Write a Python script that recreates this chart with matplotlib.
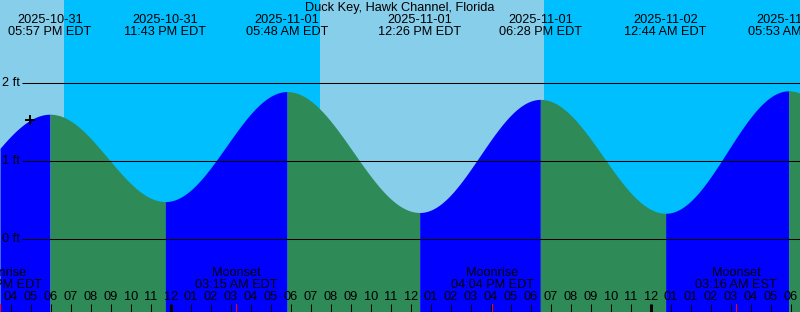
import numpy as np
import matplotlib
matplotlib.use("Agg")
import matplotlib.pyplot as plt
from matplotlib.transforms import blended_transform_factory

# ---- data (hours since 2025-10-31 00:00 EDT, heights in ft) ----
tide_times = [11.75, 17.95, 23.717, 29.80, 36.433, 42.467, 48.733, 54.883, 61.10]
tide_heights = [0.35, 1.60, 0.48, 1.89, 0.34, 1.79, 0.33, 1.90, 0.45]
tide_dates = ["", "2025-10-31", "2025-10-31", "2025-11-01", "2025-11-01",
              "2025-11-01", "2025-11-02", "2025-11-02", ""]
tide_clock = ["", "05:57 PM EDT", "11:43 PM EDT", "05:48 AM EDT", "12:26 PM EDT",
              "06:28 PM EDT", "12:44 AM EDT", "05:53 AM EST", ""]

sun_times = [18.65, 31.45, 42.65]          # sunset, sunrise, sunset
sun_kinds = ["set", "rise", "set"]

moon_times = [15.467, 27.25, 40.067, 52.267]
moon_names = ["Moonrise", "Moonset", "Moonrise", "Moonset"]
moon_clock = ["03:28 PM EDT", "03:15 AM EDT", "04:04 PM EDT", "03:16 AM EST"]

hour_ticks = list(range(16, 56))
hour_labels = ["04", "05", "06", "07", "08", "09", "10", "11", "12",
               "01", "02", "03", "04", "05", "06", "07", "08", "09", "10", "11", "12",
               "01", "02", "03", "04", "05", "06", "07", "08", "09", "10", "11", "12",
               "01", "01", "02", "03", "04", "05", "06"]
midnights = [24, 48]

gridlines = [0, 1, 2]
grid_labels = ["0 ft", "1 ft", "2 ft"]

now_time = 16.95
now_height = 1.52

title = "Duck Key, Hawk Channel, Florida"

# ---- style ----
DAY = "#87CEEB"
NIGHT = "#00BFFF"
FLOOD = "#0000FF"
EBB = "#2E8B57"
FONT = "Liberation Sans"
FS = 9.2

W, H = 800, 312
t0, t1 = 15.45, 55.45
ybot, ytop = -73 / 78, 239 / 78

fig = plt.figure(figsize=(W / 100, H / 100), dpi=100)
ax = fig.add_axes([0, 0, 1, 1])
ax.set_xlim(t0, t1)
ax.set_ylim(ybot, ytop)
ax.axis("off")
bt = blended_transform_factory(ax.transData, ax.transAxes)


def py(p):
    return 1 - p / H


# sky background
edges = [t0] + sun_times + [t1]
first_day = sun_kinds[0] == "set"
for i in range(len(edges) - 1):
    is_day = (i % 2 == 0) == first_day
    ax.axvspan(edges[i], edges[i + 1], color=DAY if is_day else NIGHT, lw=0, zorder=0)


# water
for i in range(len(tide_times) - 1):
    ta, tb = tide_times[i], tide_times[i + 1]
    ha, hb = tide_heights[i], tide_heights[i + 1]
    lo, hi = max(ta, t0), min(tb, t1)
    if hi <= lo:
        continue
    t = np.linspace(lo, hi, 200)
    ph = (t - ta) / (tb - ta) * np.pi
    h = (ha + hb) / 2 + (ha - hb) / 2 * np.cos(ph)
    col = FLOOD if hb > ha else EBB
    ax.fill_between(t, ybot, h, color=col, lw=0, zorder=1)

# horizontal lines + labels
for g, lab in zip(gridlines, grid_labels):
    ax.plot([t0 + 22 / 20, t1], [g, g], color="black", lw=0.75, zorder=3,
            solid_capstyle="butt")
    ax.text(t0 + 2 / 20, g, lab, fontsize=FS, family=FONT, ha="left", va="center",
            zorder=4)

# title
ax.text(0.5, py(8), title, transform=ax.transAxes, fontsize=FS, family=FONT,
        ha="center", va="center", zorder=4)

# tide labels
for t, d, c in zip(tide_times, tide_dates, tide_clock):
    if not d:
        continue
    ax.text(t, py(20), d, transform=bt, fontsize=FS, family=FONT, ha="center",
            va="center", zorder=4)
    ax.text(t, py(32), c, transform=bt, fontsize=FS, family=FONT, ha="center",
            va="center", zorder=4)

# moon labels
for t, n, c in zip(moon_times, moon_names, moon_clock):
    ax.text(t, py(273.5), n, transform=bt, fontsize=FS, family=FONT, ha="center",
            va="center", zorder=4)
    ax.text(t, py(285.5), c, transform=bt, fontsize=FS, family=FONT, ha="center",
            va="center", zorder=4)
    ax.plot([t, t], [py(304), py(312)], transform=bt, color="red", lw=0.75, zorder=4)

# hour ticks and labels
for t, lab in zip(hour_ticks, hour_labels):
    ax.text(t, py(297.5), lab, transform=bt, fontsize=FS, family=FONT, ha="center",
            va="center", zorder=4)
    lw = 2.2 if t in midnights else 0.75
    ax.plot([t, t], [py(304), py(312)], transform=bt, color="black", lw=lw,
            solid_capstyle="butt", zorder=4)

# now marker
ax.plot([now_time], [now_height], marker="+", color="black", ms=7, mew=1.4, zorder=5)

fig.savefig("out.png", dpi=100)
